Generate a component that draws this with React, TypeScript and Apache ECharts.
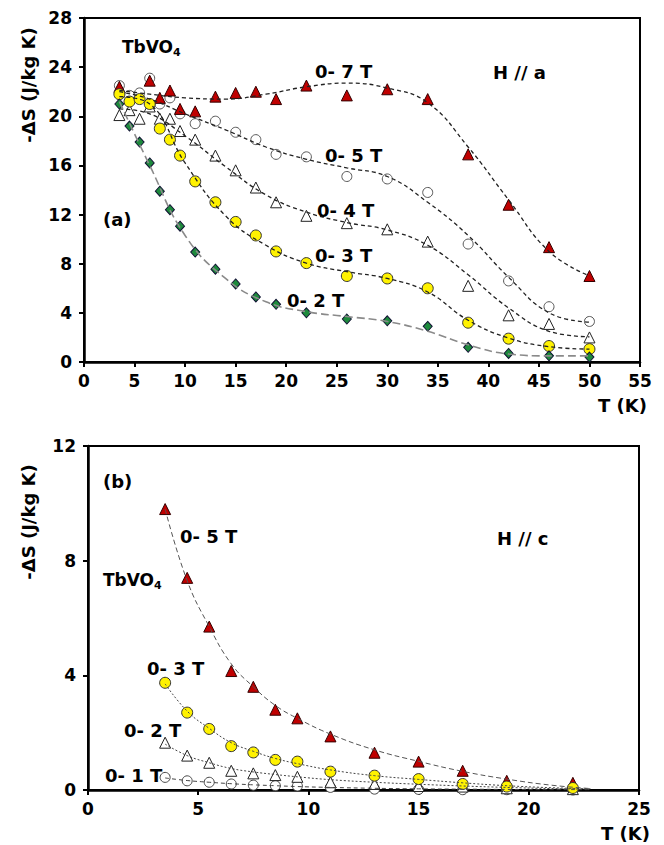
import React, { useEffect, useRef } from "react";
import * as echarts from "echarts";

// ---------- Panel (a): H // a ----------
const tA = [3.5, 4.5, 5.5, 6.5, 7.5, 8.5, 9.5, 11, 13, 15, 17, 19, 22, 26, 30, 34, 38, 42, 46, 50];
const a7T = [22.4, null, null, 22.9, 21.5, 22.1, 20.6, 20.4, 21.6, 21.9, 22.0, 21.4, 22.5, 21.7, 22.2, 21.4, 16.9, 12.8, 9.35, 7.0];
const a5T = [22.5, 21.7, 21.9, 23.1, 21.0, 21.5, 20.2, 19.4, 19.6, 18.7, 18.1, 16.9, 16.7, 15.1, 14.9, 13.8, 9.6, 6.6, 4.5, 3.3];
const a4T = [20.1, 20.5, 19.8, 20.8, 19.8, 19.8, 18.8, 18.1, 16.8, 15.6, 14.2, 13.0, 11.9, 11.3, 10.8, 9.8, 6.2, 3.8, 3.1, 2.0];
const a3T = [21.8, 21.2, 21.4, 21.0, 19.0, 18.1, 16.8, 14.7, 13.0, 11.4, 10.3, 9.0, 8.05, 7.0, 6.8, 6.0, 3.2, 1.9, 1.3, 1.05];
const a2T = [21.0, 19.2, 17.9, 16.2, 13.9, 12.4, 11.05, 8.95, 7.55, 6.35, 5.3, 4.7, 4.0, 3.5, 3.35, 2.9, 1.2, 0.7, 0.5, 0.4];

// fitted trend curves
const fitAx = [3.5, 6.5, 10, 14, 18, 22, 26, 30, 34, 38, 42, 46, 50];
const fitA7 = [22.1, 21.8, 21.5, 21.4, 21.8, 22.4, 22.7, 22.3, 21.1, 17.5, 13.2, 9.0, 7.0];
const fitA5 = [22.0, 21.4, 20.2, 18.9, 17.5, 16.5, 15.8, 15.1, 13.0, 10.3, 6.9, 4.0, 3.25];
const fitA4 = [20.6, 20.2, 18.4, 15.9, 13.6, 12.2, 11.35, 10.75, 9.5, 7.1, 4.4, 2.5, 2.05];
const fitA3 = [21.6, 21.0, 16.2, 11.9, 9.5, 8.05, 7.35, 6.8, 5.7, 3.4, 1.95, 1.25, 1.05];
const fitA2 = [21.2, 16.0, 10.3, 6.8, 4.9, 4.1, 3.7, 3.3, 2.5, 1.4, 0.65, 0.5, 0.5];

// ---------- Panel (b): H // c ----------
const tB = [3.5, 4.5, 5.5, 6.5, 7.5, 8.5, 9.5, 11, 13, 15, 17, 19, 22];
const b5T = [9.8, 7.4, 5.7, 4.15, 3.6, 2.8, 2.5, 1.87, 1.3, 0.99, 0.67, 0.32, 0.25];
const b3T = [3.74, 2.7, 2.13, 1.53, 1.31, 1.05, 0.99, 0.64, 0.5, 0.38, 0.21, 0.12, 0.07];
const b2T = [1.65, 1.2, 0.95, 0.67, 0.58, 0.52, 0.46, 0.27, 0.21, 0.14, 0.12, 0.06, 0.03];
const b1T = [0.44, 0.32, 0.27, 0.21, 0.17, 0.15, 0.14, 0.09, 0.03, 0.02, 0.01, 0.01, 0.0];

const fitBx = [3.5, 4.5, 5.5, 6.5, 7.5, 8.5, 9.5, 11, 13, 15, 17, 19, 21, 22.8];
const fitB5 = [9.8, 7.3, 5.7, 4.4, 3.6, 2.95, 2.5, 1.95, 1.4, 1.0, 0.65, 0.38, 0.17, 0.05];
const fitB3 = [3.7, 2.75, 2.15, 1.65, 1.35, 1.1, 0.92, 0.7, 0.5, 0.37, 0.25, 0.15, 0.08, 0.04];
const fitB2 = [1.6, 1.2, 0.95, 0.75, 0.63, 0.54, 0.46, 0.36, 0.27, 0.2, 0.14, 0.09, 0.05, 0.03];
const fitB1 = [0.42, 0.33, 0.27, 0.22, 0.18, 0.15, 0.12, 0.09, 0.06, 0.04, 0.03, 0.02, 0.01, 0.01];

const xTicksA = { min: 0, max: 55, interval: 5 };
const yTicksA = { min: 0, max: 28, interval: 4 };
const xTicksB = { min: 0, max: 25, interval: 5 };
const yTicksB = { min: 0, max: 12, interval: 4 };

const FONT = '"DejaVu Sans", "Liberation Sans", Arial, sans-serif';

const zip = (xs: number[], ys: (number | null)[]) =>
  xs.map((x, i) => (ys[i] == null ? [x, "-"] : [x, ys[i]]));

export default function App() {
  const ref = useRef<HTMLDivElement>(null);
  useEffect(() => {
    document.body.style.margin = "0";
    const chart = echarts.init(ref.current!, null, { renderer: "svg" });

    const axisLabel = { fontFamily: FONT, fontWeight: "bold" as const, fontSize: 17, color: "#000", margin: 10 };
    const mkX = (gi: number, t: any) => ({
      type: "value", gridIndex: gi, min: t.min, max: t.max, interval: t.interval,
      axisLine: { show: true, onZero: false, lineStyle: { color: "#000", width: 2.5 } },
      axisTick: { show: true, inside: false, length: 5, lineStyle: { color: "#000", width: 2 } },
      axisLabel, splitLine: { show: false },
    });
    const mkY = (gi: number, t: any) => ({
      type: "value", gridIndex: gi, min: t.min, max: t.max, interval: t.interval,
      axisLine: { show: true, onZero: false, lineStyle: { color: "#000", width: 2.5 } },
      axisTick: { show: true, inside: false, length: 5, lineStyle: { color: "#000", width: 2 } },
      axisLabel: { ...axisLabel, margin: 12 }, splitLine: { show: false },
    });

    const scatter = (gi: number, xs: number[], ys: (number | null)[], symbol: string, size: any, fill: string, border: string, z: number) => ({
      type: "scatter", xAxisIndex: gi, yAxisIndex: gi, data: zip(xs, ys), symbol, symbolSize: size, z,
      itemStyle: { color: fill, borderColor: border, borderWidth: 1, opacity: 1 },
      emphasis: { disabled: true },
    });
    const curve = (gi: number, xs: number[], ys: number[], color: string, dash: any, width: number) => ({
      type: "line", xAxisIndex: gi, yAxisIndex: gi, data: zip(xs, ys), smooth: 0.45, showSymbol: false, symbol: "none", z: 10,
      lineStyle: { color, width, type: dash }, emphasis: { disabled: true },
    });

    const red = "#C00000";
    const yellow = "#FFF200";
    const green = "#1D8A3C";

    const txt = (x: number, y: number, text: string, size = 18, extra: any = {}) => ({
      type: "text", x, y, z: 100, ...extra,
      style: { text, fontFamily: FONT, fontWeight: "bold", fontSize: size, fill: "#000", align: "left", verticalAlign: "middle" },
    });
    const tb = (x: number, y: number) => ({
      type: "text", x, y, z: 100,
      style: {
        text: "{a|TbVO}{s|4}", align: "left", verticalAlign: "middle",
        rich: {
          a: { fontFamily: FONT, fontWeight: "bold", fontSize: 17, fill: "#000", color: "#000" },
          s: { fontFamily: FONT, fontWeight: "bold", fontSize: 11, fill: "#000", color: "#000", padding: [10, 0, 0, 0] },
        },
      },
    });
    const yTitle = (x: number, y: number) => ({
      type: "text", x, y, rotation: Math.PI / 2, z: 100,
      style: { text: "-ΔS (J/kg K)", fontFamily: FONT, fontWeight: "bold", fontSize: 18, fill: "#000", align: "center", verticalAlign: "middle" },
    });

    chart.setOption({
      animation: false,
      grid: [
        { left: 84, top: 18, width: 556, height: 344, show: true, borderColor: "#000", borderWidth: 2, backgroundColor: "transparent" },
        { left: 88, top: 446, width: 551, height: 344, show: true, borderColor: "#000", borderWidth: 2, backgroundColor: "transparent" },
      ],
      xAxis: [mkX(0, xTicksA), mkX(1, xTicksB)],
      yAxis: [mkY(0, yTicksA), mkY(1, yTicksB)],
      series: [
        // panel (a)
        scatter(0, tA, a5T, "circle", 10, "#fff", "#555", 3),
        scatter(0, tA, a7T, "triangle", 11, red, "#300", 4),
        scatter(0, tA, a4T, "triangle", 11, "#fff", "#222", 5),
        scatter(0, tA, a3T, "circle", 11, yellow, "#333", 6),
        scatter(0, tA, a2T, "diamond", [9, 10], green, "#113", 7),
        curve(0, fitAx, fitA7, "#222", [4, 3], 1.3),
        curve(0, fitAx, fitA5, "#222", [4, 3], 1.3),
        curve(0, fitAx, fitA4, "#222", [4, 3], 1.3),
        curve(0, fitAx, fitA3, "#222", [4, 3], 1.3),
        curve(0, fitAx, fitA2, "#8a8a8a", [8, 4], 1.6),
        // panel (b)
        scatter(1, tB, b1T, "circle", 10, "#fff", "#444", 3),
        scatter(1, tB, b2T, "triangle", 11, "#fff", "#222", 4),
        scatter(1, tB, b5T, "triangle", 11, red, "#300", 5),
        scatter(1, tB, b3T, "circle", 11, yellow, "#333", 6),
        curve(1, fitBx, fitB5, "#555", [5, 3], 1),
        curve(1, fitBx, fitB3, "#444", [2, 2], 1),
        curve(1, fitBx, fitB2, "#444", [2, 2], 1),
        curve(1, fitBx, fitB1, "#444", [4, 3], 1),
      ],
      graphic: [
        tb(122, 47),
        txt(315, 71, "0- 7 T"),
        txt(493, 72, "H // a"),
        txt(325, 155, "0- 5 T"),
        txt(317, 210, "0- 4 T"),
        txt(103, 219, "(a)"),
        txt(315, 255, "0- 3 T"),
        txt(287, 300, "0- 2 T"),
        yTitle(28, 85),
        txt(598, 405, "T (K)"),
        // panel (b)
        txt(103, 481, "(b)"),
        txt(180, 536, "0- 5 T"),
        tb(103, 580),
        txt(497, 538, "H // c"),
        txt(147, 668, "0- 3 T"),
        txt(124, 730, "0- 2 T"),
        txt(105, 775, "0- 1 T"),
        yTitle(28, 522),
        txt(601, 833, "T (K)"),
      ],
    });
    return () => chart.dispose();
  }, []);
  return <div ref={ref} style={{ width: 664, height: 845 }} />;
}
